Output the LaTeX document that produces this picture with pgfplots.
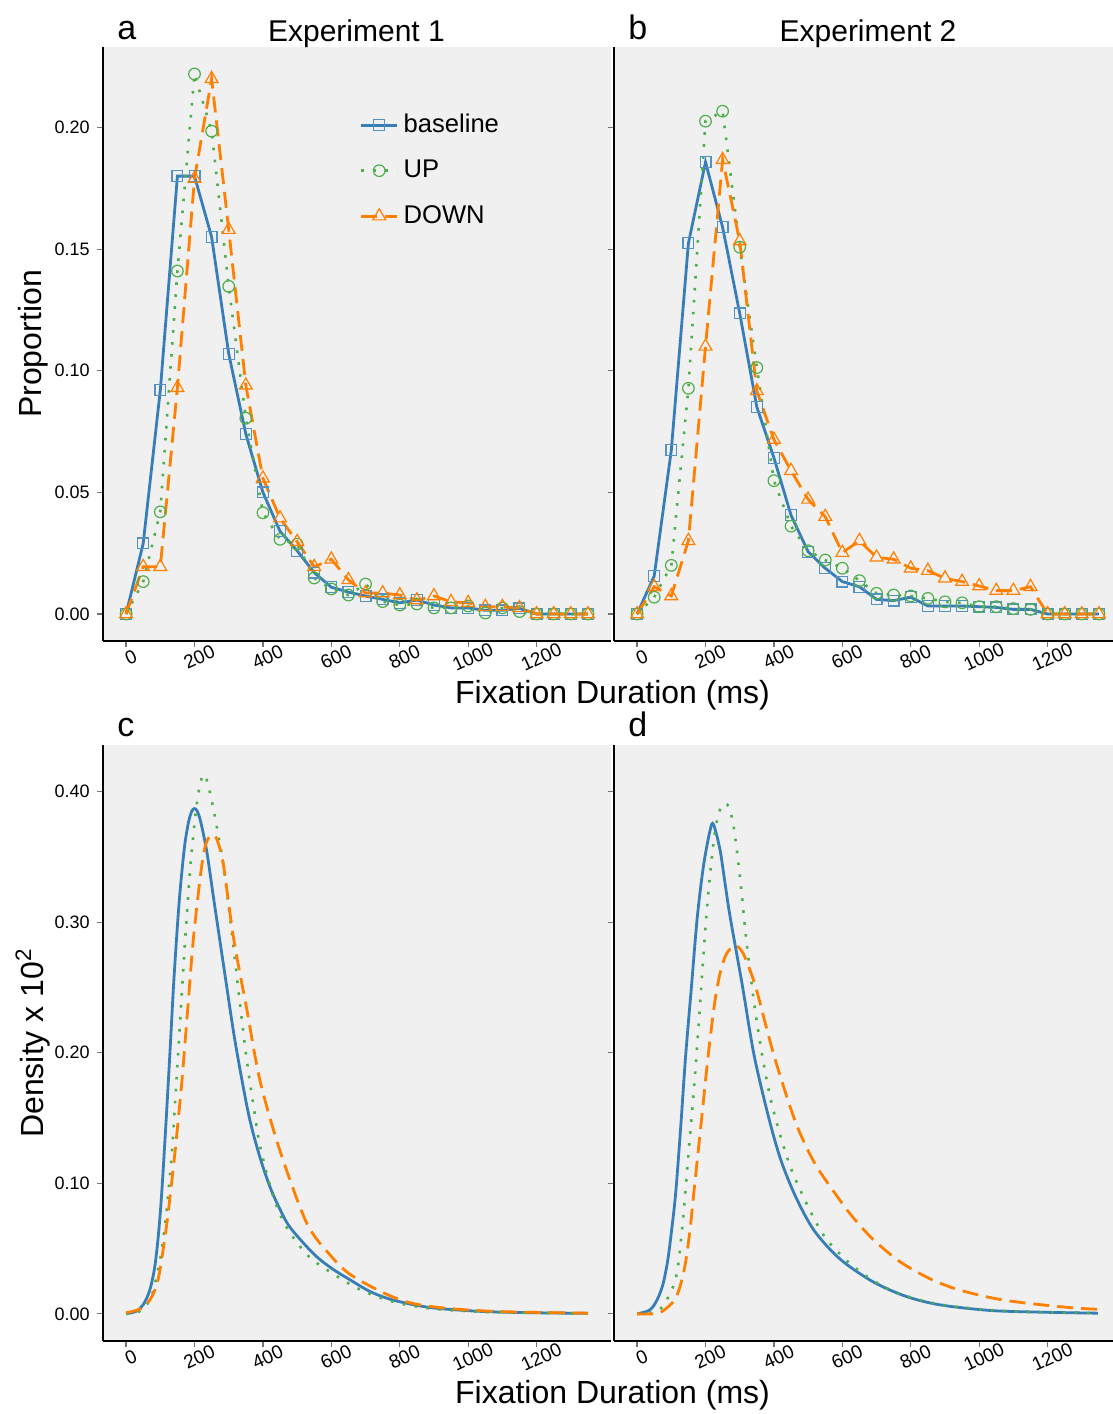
\documentclass[border=0pt]{standalone}
\usepackage{fontspec}
\setmainfont{Liberation Sans}
\usepackage{pgfplots}
\usepackage{pgfplotstable}
\pgfplotsset{compat=1.18}

\definecolor{cbase}{HTML}{377EB8}
\definecolor{cup}{HTML}{4DAF4A}
\definecolor{cdown}{HTML}{FF7F00}
\definecolor{panelbg}{HTML}{F0F0F0}

% empirical proportions, experiment 1 and 2
\pgfplotstableread{
t base up down
0 0.000 0.000 0.000
50 0.029 0.0133 0.0194
100 0.092 0.042 0.0194
150 0.180 0.141 0.093
200 0.180 0.222 0.179
250 0.155 0.1985 0.220
300 0.107 0.1347 0.158
350 0.074 0.0805 0.094
400 0.050 0.0416 0.0558
450 0.034 0.0307 0.0394
500 0.026 0.0287 0.0297
550 0.017 0.0148 0.0194
600 0.011 0.0103 0.0225
650 0.009 0.0078 0.014
700 0.0074 0.0123 0.0086
750 0.006 0.0051 0.0086
800 0.0046 0.0037 0.0078
850 0.0057 0.0041 0.0057
900 0.0037 0.0025 0.0074
950 0.0025 0.0025 0.005
1000 0.0025 0.0033 0.0046
1050 0.0015 0.0004 0.003
1100 0.0015 0.0025 0.003
1150 0.0023 0.001 0.0025
1200 0 0 0
1250 0 0 0
1300 0 0 0
1350 0 0 0
}\expone

\pgfplotstableread{
t base up down
0 0 0 0
50 0.0156 0.0069 0.0112
100 0.0673 0.020 0.0074
150 0.1524 0.0928 0.0301
200 0.1858 0.2026 0.110
250 0.159 0.2067 0.1867
300 0.1236 0.1508 0.1533
350 0.0851 0.1013 0.0917
400 0.0642 0.0548 0.0717
450 0.0406 0.0361 0.0589
500 0.0256 0.026 0.0471
550 0.0188 0.0222 0.040
600 0.0133 0.0188 0.0252
650 0.0112 0.0137 0.0301
700 0.006 0.0085 0.0233
750 0.0055 0.0078 0.0225
800 0.0069 0.0074 0.0188
850 0.0033 0.0064 0.0178
900 0.0033 0.005 0.0147
950 0.0033 0.0046 0.0133
1000 0.003 0.003 0.0115
1050 0.0027 0.003 0.0096
1100 0.0019 0.0022 0.0096
1150 0.0019 0.0019 0.0112
1200 0 0 0
1250 0 0 0
1300 0 0 0
1350 0 0 0
}\exptwo

\pgfplotsset{
  fixpanel/.style={
    scale only axis, width=254pt,
    xmin=-67.5, xmax=1417.5,
    axis background/.style={fill=panelbg},
    axis x line=bottom, axis y line=left,
    x axis line style={-}, y axis line style={-},
    axis line style={line width=1.2pt, black},
    tick align=outside, major tick length=3pt,
    major tick style={black!55, line width=0.6pt},
    xtick={0,200,400,600,800,1000,1200},
    xticklabels={0,200,400,600,800,1000,1200},
    x tick label style={font=\fontsize{9.5}{10}\selectfont, rotate=25, anchor=north,
      inner sep=0.5pt, yshift=-1.5pt},
    y tick label style={font=\fontsize{9}{10}\selectfont, inner sep=1pt, xshift=-2.5pt},
  },
  toprow/.style={fixpanel, height=297pt, ymin=-0.0111, ymax=0.2331,
    ytick={0,0.05,0.1,0.15,0.2}},
  botrow/.style={fixpanel, height=298pt, ymin=-0.0208, ymax=0.4357,
    ytick={0,0.1,0.2,0.3,0.4}},
  sbase/.style={cbase, line width=1.4pt, mark=square, mark size=2.7pt,
    mark options={solid, line width=0.6pt, cbase!85}},
  sup/.style={cup, line width=1.3pt, dash pattern=on 1.3pt off 4.7pt,
    mark=o, mark size=2.9pt, mark options={solid, line width=0.6pt}},
  sdown/.style={cdown, line width=1.4pt, dash pattern=on 8pt off 4pt,
    mark=triangle, mark size=3.7pt, mark options={solid, line width=0.6pt}},
  dbase/.style={cbase, line width=1.4pt, smooth, tension=0.5},
  dup/.style={cup, line width=1.3pt, dash pattern=on 1.3pt off 4.7pt, smooth, tension=0.5},
  ddown/.style={cdown, line width=1.4pt, dash pattern=on 8pt off 4pt, smooth, tension=0.5},
}

\begin{document}
\begin{tikzpicture}
\useasboundingbox (0,0) rectangle (556.5pt,707pt);

% a
\begin{axis}[toprow, at={(51.5pt,386.5pt)}, anchor=south west,
  yticklabels={0.00,0.05,0.10,0.15,0.20},
  legend style={at={(rel axis cs:0.493,0.896)}, anchor=north west,
    draw=none, fill=none, font=\fontsize{12.8}{14}\selectfont,
    row sep=10.75pt, nodes={inner sep=0pt, text height=9.5pt, text depth=2.5pt},
    /tikz/every odd column/.append style={column sep=2.5pt}},
  legend cell align=left,
  legend image code/.code={\draw[mark repeat=2,mark phase=2,#1]
    plot coordinates {(0pt,0pt) (9pt,0pt) (18pt,0pt)};}]
\addplot[sbase] table[x=t, y=base] {\expone};
\addlegendentry{baseline}
\addplot[sup] table[x=t, y=up] {\expone};
\addlegendentry{UP}
\addplot[sdown] table[x=t, y=down] {\expone};
\addlegendentry{DOWN}
\end{axis}

% b
\begin{axis}[toprow, at={(307pt,386.5pt)}, anchor=south west, yticklabels={}]
\addplot[sbase] table[x=t, y=base] {\exptwo};
\addplot[sup] table[x=t, y=up] {\exptwo};
\addplot[sdown] table[x=t, y=down] {\exptwo};
\end{axis}

% c
\begin{axis}[botrow, at={(51.5pt,36.5pt)}, anchor=south west,
  yticklabels={0.00,0.10,0.20,0.30,0.40}]
\addplot[dbase] coordinates {(0,0) (30,0.002) (50,0.007) (65,0.015) (75,0.024)
  (85,0.038) (95,0.062) (104,0.092) (117,0.148) (129,0.204) (140,0.257)
  (155,0.315) (170,0.356) (182,0.376) (192,0.385) (200,0.387) (208,0.385)
  (218,0.377) (236,0.354) (256,0.318) (290,0.258) (319,0.208) (358,0.153)
  (390,0.121) (421,0.097) (450,0.080) (480,0.066) (548,0.046) (600,0.035)
  (655,0.026) (714,0.017) (781,0.0105) (890,0.0048) (1036,0.0019)
  (1200,0.0008) (1350,0.0004)};
\addplot[dup] coordinates {(0,0) (30,0.001) (50,0.004) (75,0.014) (100,0.042)
  (118,0.078) (134,0.124) (147,0.178) (160,0.233) (173,0.288) (188,0.343)
  (204,0.385) (215,0.404) (226,0.413) (238,0.407) (256,0.386) (270,0.366)
  (285,0.343) (309,0.292) (334,0.235) (355,0.19) (375,0.155) (392,0.128)
  (430,0.09) (470,0.066) (530,0.045) (597,0.032) (685,0.0184) (781,0.0092)
  (890,0.0041) (1036,0.0016) (1200,0.0007) (1350,0.0004)};
\addplot[ddown] coordinates {(0,0.001) (21,0.002) (50,0.005) (75,0.013) (95,0.028)
  (119,0.069) (143,0.124) (163,0.178) (180,0.233) (197,0.288) (221,0.343)
  (236,0.362) (256,0.367) (270,0.36) (285,0.343) (314,0.288) (353,0.233)
  (392,0.178) (451,0.124) (529,0.069) (600,0.044) (656,0.030) (753,0.016)
  (831,0.0084) (928,0.0045) (1085,0.0018) (1350,0.0005)};
\end{axis}

% d
\begin{axis}[botrow, at={(307pt,36.5pt)}, anchor=south west, yticklabels={}]
\addplot[dbase] coordinates {(0,0) (30,0.002) (45,0.005) (59,0.011) (75,0.022)
  (89,0.040) (100,0.062) (113,0.093) (128,0.145) (142,0.198) (159,0.251)
  (176,0.304) (194,0.343) (213,0.370) (223,0.375) (242,0.356) (257,0.330)
  (272,0.304) (308,0.251) (342,0.198) (385,0.150) (420,0.118) (463,0.090)
  (517,0.064) (593,0.042) (690,0.0245) (787,0.0133) (885,0.0069)
  (1031,0.0026) (1177,0.0013) (1347,0.0005)};
\addplot[dup] coordinates {(0,0) (40,0.001) (74,0.0054) (113,0.027) (132,0.066)
  (149,0.119) (166,0.172) (181,0.225) (194,0.275) (208,0.322) (223,0.360)
  (236,0.381) (248,0.389) (259,0.391) (270,0.387) (283,0.372) (301,0.334)
  (322,0.280) (351,0.222) (390,0.165) (449,0.112) (536,0.064) (604,0.043)
  (659,0.031) (719,0.021) (785,0.0138) (885,0.0072) (1031,0.0029)
  (1177,0.0013) (1347,0.0006)};
\addplot[ddown] coordinates {(0,0) (59,0.0003) (89,0.005) (113,0.012) (130,0.025)
  (142,0.040) (155,0.065) (166,0.093) (188,0.148) (207,0.196) (225,0.235)
  (240,0.258) (255,0.272) (270,0.279) (288,0.282) (303,0.279) (317,0.272)
  (347,0.250) (400,0.198) (463,0.147) (520,0.115) (593,0.087) (634,0.073)
  (690,0.057) (768,0.040) (855,0.027) (933,0.019) (1031,0.0125) (1128,0.0085)
  (1274,0.0046) (1347,0.0035)};
\end{axis}

% panel tags, titles, axis titles
\node[anchor=base west, inner sep=0pt, font=\fontsize{17}{18}\selectfont] at (58.5pt,687.35pt) {a};
\node[anchor=base west, inner sep=0pt, font=\fontsize{17}{18}\selectfont] at (314pt,687.35pt) {b};
\node[anchor=base west, inner sep=0pt, font=\fontsize{17}{18}\selectfont] at (58.5pt,338.5pt) {c};
\node[anchor=base west, inner sep=0pt, font=\fontsize{17}{18}\selectfont] at (314pt,338.5pt) {d};
\node[anchor=base, font=\fontsize{15}{16}\selectfont] at (178.25pt,686pt) {Experiment 1};
\node[anchor=base, font=\fontsize{15}{16}\selectfont] at (434pt,686pt) {Experiment 2};
\node[rotate=90, font=\fontsize{16}{17}\selectfont] at (16.5pt,535pt) {Proportion};
\node[rotate=90, font=\fontsize{16}{17}\selectfont] at (16.5pt,185.5pt) {Density x 10\textsuperscript{2}};
\node[font=\fontsize{16}{17}\selectfont] at (306.25pt,359.5pt) {Fixation Duration (ms)};
\node[font=\fontsize{16}{17}\selectfont] at (306.25pt,9.5pt) {Fixation Duration (ms)};
\end{tikzpicture}
\end{document}
